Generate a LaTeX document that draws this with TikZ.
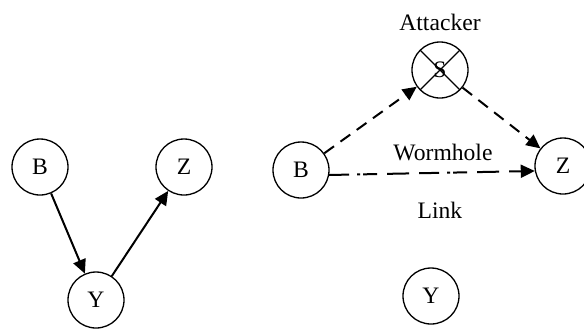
\documentclass[tikz,border=0pt]{standalone}
\usepackage{fontspec}
\setmainfont{Liberation Serif}
\usetikzlibrary{arrows.meta, positioning}

\tikzset{
    host/.style={circle, draw, line width=0.65pt, minimum size=28pt, inner sep=0pt,
        font=\fontsize{11.8}{13}\selectfont},
    hop/.style={-{Triangle[length=7pt, width=6.5pt]}, line width=1pt},
    tunnel/.style={hop, dash pattern=on 6pt off 4pt}
}

\begin{document}
\begin{tikzpicture}[x=0.5pt, y=-0.5pt, font=\fontsize{11.8}{13}\selectfont]
        \useasboundingbox (0,0) rectangle (584,329);

        % Normal route
        \begin{scope}
            \node[host] (B1) at (40, 167) {B};
            \node[host] (Z1) at (184, 167) {Z};
            \node[host] (Y1) at (96, 300) {Y};

            \draw[hop] (B1) -- (Y1);
            \draw[hop] (Y1) -- (Z1);
        \end{scope}

        % Route through the attacker
        \begin{scope}
            \node[host] (B2) at (301, 170) {B};
            \node[host] (Z2) at (563, 166) {Z};
            \node[host] (Y2) at (431, 296) {Y};
            \node[host, path picture={
                \draw[line width=0.65pt] (path picture bounding box.north west) -- (path picture bounding box.south east)
                    (path picture bounding box.north east) -- (path picture bounding box.south west);
            }] (S) at (440, 70) {S};
            \node[above=2pt of S] (attacker) {Attacker};

            \draw[tunnel] (B2) -- (S);
            \draw[tunnel] (S) -- (Z2);
            \draw[hop, dash pattern=on 10pt off 4pt on 1.5pt off 1.5pt on 7pt off 5pt on 11pt off 5pt] (B2.-10) -- (Z2.190);

            \node (wormhole) at (443, 152) {Wormhole};
            \node (link) at (440, 210) {Link};
        \end{scope}
    \end{tikzpicture}
\end{document}
